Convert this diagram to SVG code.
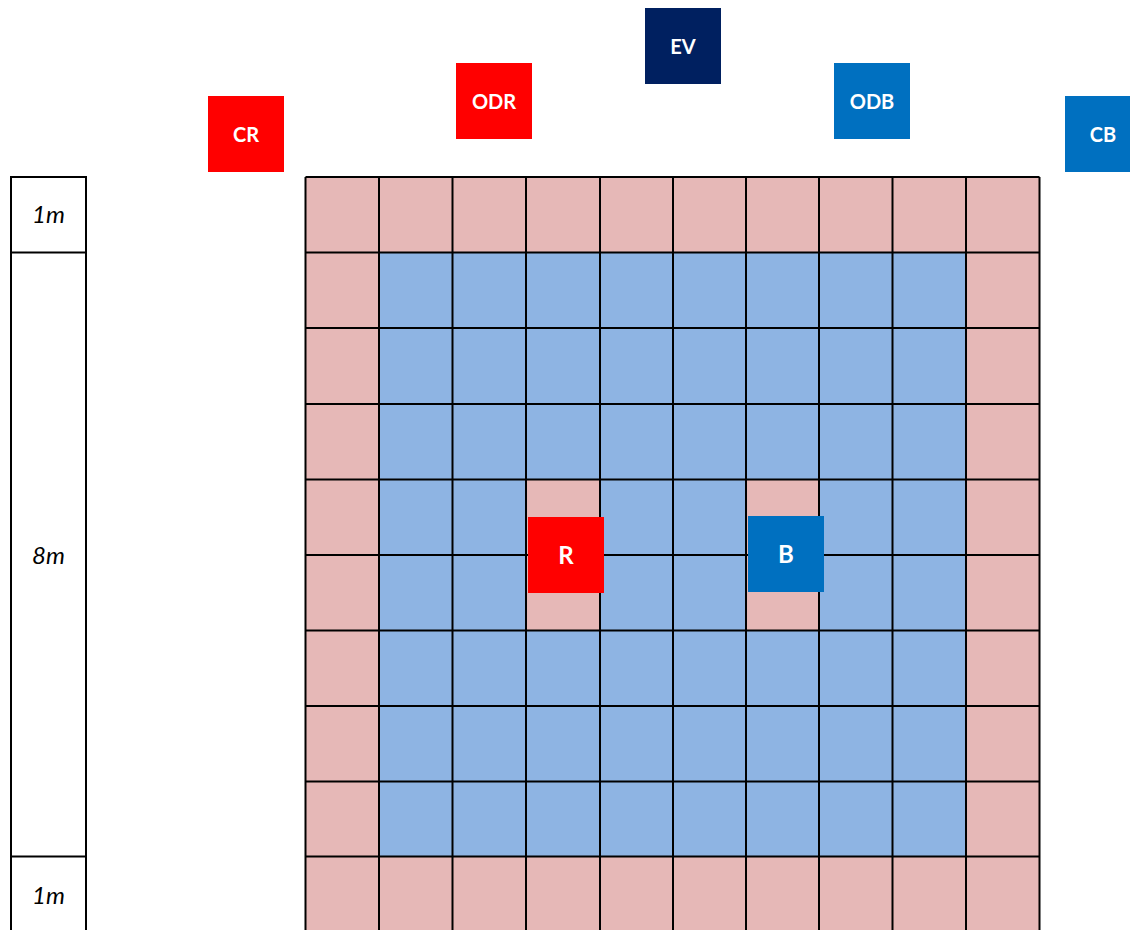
<svg xmlns="http://www.w3.org/2000/svg" width="1130" height="930" viewBox="0 0 1130 930">
<style>
.p{fill:#E6B8B7}
.b{fill:#8EB4E3}
.gl{stroke:#000;stroke-width:2;fill:none}
.lbl{font-family:Lato,"Open Sans",sans-serif;font-weight:bold;fill:#fff;text-anchor:middle}
.sc{font-family:Lato,"Liberation Sans",sans-serif;font-style:italic;font-size:24px;fill:#000;text-anchor:middle}
</style>
<rect width="1130" height="930" fill="#fff"/>
<g id="scale">
<rect x="11" y="177" width="75" height="755" fill="#fff" class="gl"/>
<line x1="11" y1="252.5" x2="86" y2="252.5" class="gl"/>
<line x1="11" y1="856.5" x2="86" y2="856.5" class="gl"/>
<text x="48.5" y="223" class="sc">1m</text>
<text x="48.5" y="564" class="sc">8m</text>
<text x="48.5" y="904" class="sc">1m</text>
</g>
<g id="grid">
<rect x="305.5" y="177" width="734" height="755" class="p"/>
<rect x="379" y="252.5" width="587" height="604" class="b"/>
<rect x="526" y="480" width="74" height="151" class="p"/>
<rect x="746" y="480" width="73" height="151" class="p"/>
<path class="gl" d="M305.5 177V932M379 177V932M452.5 177V932M526 177V932M600 177V932M673 177V932M746 177V932M819 177V932M892.5 177V932M966 177V932M1039.5 177V932
M305.5 177H1039.5M305.5 252.5H1039.5M305.5 328H1039.5M305.5 404H1039.5M305.5 479.5H1039.5M305.5 555H1039.5M305.5 630.5H1039.5M305.5 706H1039.5M305.5 781.5H1039.5M305.5 856.5H1039.5"/>
</g>
<g id="CR"><rect x="208" y="96" width="76" height="76" fill="#FF0000"/><text x="246" y="142" class="lbl" font-size="20">CR</text></g>
<g id="ODR"><rect x="456" y="63" width="76" height="76" fill="#FF0000"/><text x="494" y="109" class="lbl" font-size="20">ODR</text></g>
<g id="EV"><rect x="645" y="8" width="76" height="76" fill="#002060"/><text x="683" y="54" class="lbl" font-size="20">EV</text></g>
<g id="ODB"><rect x="834" y="63" width="76" height="76" fill="#0070C0"/><text x="872" y="109" class="lbl" font-size="20">ODB</text></g>
<g id="CB"><rect x="1065" y="96" width="76" height="76" fill="#0070C0"/><text x="1103" y="142" class="lbl" font-size="20">CB</text></g>
<g id="R"><rect x="528" y="517" width="76" height="76" fill="#FF0000"/><text x="566" y="564" class="lbl" font-size="24">R</text></g>
<g id="B"><rect x="748" y="516" width="76" height="76" fill="#0070C0"/><text x="786" y="563" class="lbl" font-size="24">B</text></g>
</svg>
